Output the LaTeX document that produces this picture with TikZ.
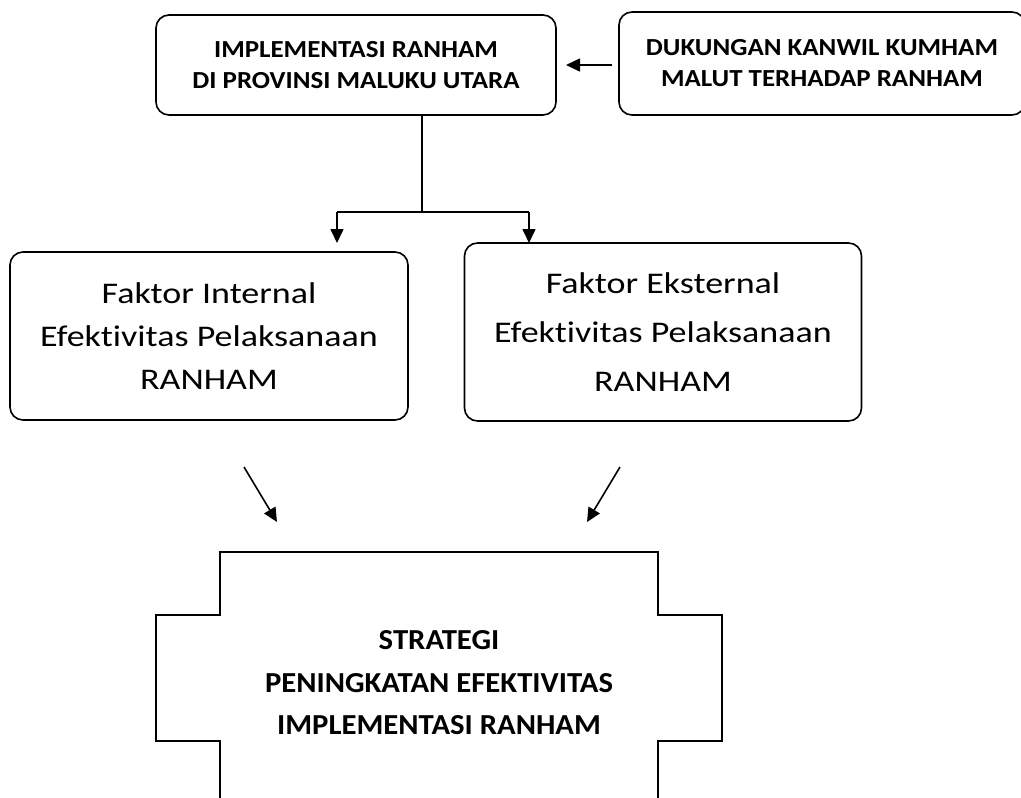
\documentclass[tikz,border=0pt]{standalone}
\usepackage{fontspec}
\setmainfont{Carlito}[Ligatures=NoCommon]
\newfontfamily\topfont[FakeStretch=1.1,Ligatures=NoCommon]{Carlito}
\newfontfamily\midfont[FakeStretch=1.2,Ligatures=NoCommon]{Carlito}
\newfontfamily\lowfont[FakeStretch=1.06,Ligatures=NoCommon]{Carlito}
\usetikzlibrary{arrows.meta}
\tikzset{
  rbox/.style={draw=black, line width=1.6pt, rounded corners=13pt, align=center, inner sep=0pt},
  conn/.style={draw=black, line width=1.6pt, -{Triangle[length=14pt,width=13pt]}},
  plain/.style={draw=black, line width=1.6pt},
}
\begin{document}
\begin{tikzpicture}[x=1pt,y=-1pt]
\useasboundingbox (0,0) rectangle (1021,798);
% top boxes
\node[rbox, minimum width=400pt, minimum height=100pt, font=\topfont\fontsize{24.5}{31}\selectfont\bfseries] (A) at (356,65)
  {IMPLEMENTASI RANHAM\\DI PROVINSI MALUKU UTARA};
\node[rbox, minimum width=406pt, minimum height=103pt, font=\topfont\fontsize{24.5}{31}\selectfont\bfseries] (B) at (822,63.5)
  {DUKUNGAN KANWIL KUMHAM\\MALUT TERHADAP RANHAM};
\coordinate (Bs) at (612,65);
\coordinate (Ae) at (566,65);
\draw[conn] (Bs) -- (Ae);
% middle boxes
\node[rbox, minimum width=398pt, minimum height=168pt, font=\midfont\fontsize{30}{43}\selectfont] (C) at (209,336)
  {Faktor Internal\\Efektivitas Pelaksanaan\\RANHAM};
\node[rbox, minimum width=397pt, minimum height=178pt, font=\midfont\fontsize{30}{49}\selectfont] (D) at (663,332)
  {Faktor Eksternal\\Efektivitas Pelaksanaan\\RANHAM};
% split connector
\coordinate (As) at (422,115);
\coordinate (J) at (422,212);
\coordinate (Jl) at (337,212);
\coordinate (Jr) at (529,212);
\coordinate (Ct) at (337,243);
\coordinate (Dt) at (529,243);
\draw[plain] (As) -- (J);
\draw[plain] (Jl) -- (Jr);
\draw[conn] (Jl) -- (Ct);
\draw[conn] (Jr) -- (Dt);
% diagonal arrows
\coordinate (L1) at (244,467);
\coordinate (L2) at (277,522);
\coordinate (R1) at (620,467);
\coordinate (R2) at (587,522);
\draw[conn] (L1) -- (L2);
\draw[conn] (R1) -- (R2);
% cross shape
\draw[plain] (220,800) -- (220,741) -- (156,741) -- (156,615) -- (220,615) -- (220,552)
  -- (658,552) -- (658,615) -- (722,615) -- (722,741) -- (658,741) -- (658,800);
\node[align=center, font=\lowfont\fontsize{29}{42.5}\selectfont\bfseries, inner sep=0pt] (S) at (439,683)
  {STRATEGI\\PENINGKATAN EFEKTIVITAS\\IMPLEMENTASI RANHAM};
\end{tikzpicture}
\end{document}
